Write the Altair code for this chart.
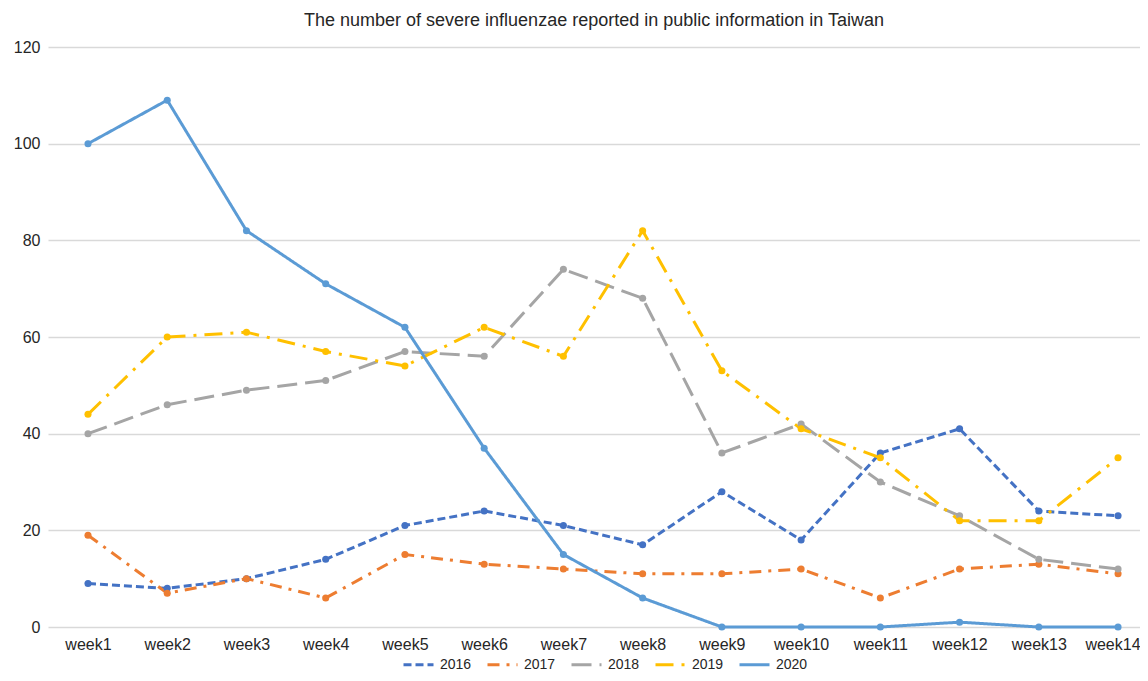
import altair as alt
import pandas as pd

weeks = [f"week{i}" for i in range(1, 15)]
years = ["2016", "2017", "2018", "2019", "2020"]
v2016 = [9, 8, 10, 14, 21, 24, 21, 17, 28, 18, 36, 41, 24, 23]
v2017 = [19, 7, 10, 6, 15, 13, 12, 11, 11, 12, 6, 12, 13, 11]
v2018 = [40, 46, 49, 51, 57, 56, 74, 68, 36, 42, 30, 23, 14, 12]
v2019 = [44, 60, 61, 57, 54, 62, 56, 82, 53, 41, 35, 22, 22, 35]
v2020 = [100, 109, 82, 71, 62, 37, 15, 6, 0, 0, 0, 1, 0, 0]
series = [v2016, v2017, v2018, v2019, v2020]
colors = ["#4472C4", "#ED7D31", "#A5A5A5", "#FFC000", "#5B9BD5"]
dashes = [[8, 4], [12, 7, 3, 7], [20, 8], [18, 8, 3, 8], [1, 0]]

rows = []
for y, vals in zip(years, series):
    for i, (w, v) in enumerate(zip(weeks, vals)):
        rows.append({"wk": i + 1, "week": w, "year": y, "value": v})
df = pd.DataFrame(rows)

FONT = "Liberation Sans"
label_expr = "[" + ",".join(f"'{w}'" for w in weeks) + "][datum.value - 1]"

x_enc = alt.X("wk:Q", scale=alt.Scale(domain=[0.4952, 14.277], nice=False, zero=False),
              axis=alt.Axis(title=None, values=list(range(1, 15)), labelExpr=label_expr,
                            labelAngle=0, domain=False, ticks=False, grid=False,
                            labelFontSize=16, labelColor="#262626", labelPadding=9,
                            labelFont=FONT, labelOverlap=False, labelFlush=25,
                            labelFlushOffset=22))
y_enc = alt.Y("value:Q", scale=alt.Scale(domain=[0, 120]),
              axis=alt.Axis(title=None, values=[0, 20, 40, 60, 80, 100, 120], domain=False,
                            ticks=False, labelFontSize=16, labelColor="#262626",
                            labelPadding=8, gridColor="#d9d9d9", gridWidth=1.5,
                            labelFont=FONT))

lines = alt.Chart(df).mark_line(strokeWidth=3).encode(
    x=x_enc, y=y_enc,
    color=alt.Color("year:N", scale=alt.Scale(domain=years, range=colors), title=None,
                    legend=alt.Legend(orient="none", legendX=354, legendY=601,
                                      direction="horizontal", symbolType="stroke",
                                      symbolSize=900, symbolStrokeWidth=3,
                                      labelFontSize=14, labelFont=FONT,
                                      labelColor="#262626", columnPadding=9,
                                      labelOffset=5)),
    strokeDash=alt.StrokeDash("year:N", scale=alt.Scale(domain=years, range=dashes), title=None),
)

points = alt.Chart(df).mark_circle(size=50, opacity=1).encode(
    x=x_enc, y=y_enc,
    color=alt.Color("year:N", scale=alt.Scale(domain=years, range=colors), legend=None),
)

chart = alt.layer(lines, points).properties(
    width=1092, height=580,
    title=alt.TitleParams("The number of severe influenzae reported in public information in Taiwan",
                          fontSize=18, fontWeight="normal", font=FONT, color="#262626",
                          anchor="middle", offset=9),
    autosize=alt.AutoSizeParams(type="none"),
    padding={"left": 40, "top": 39, "right": 0, "bottom": 46},
).configure_view(stroke=None)

chart.save("out.html", embed_options={"renderer": "svg", "actions": False})
